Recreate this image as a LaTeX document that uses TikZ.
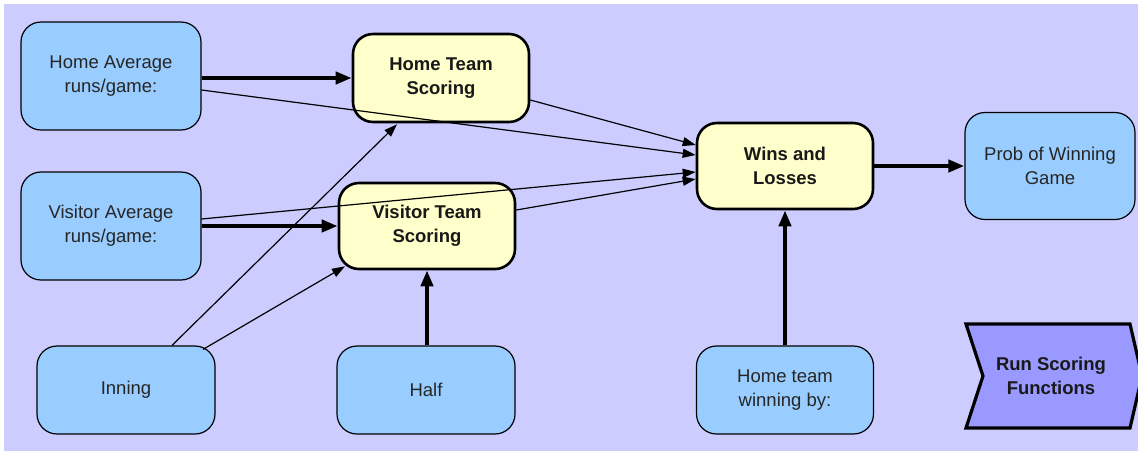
\documentclass[tikz,border=0pt]{standalone}
\usepackage{fontspec}
\setmainfont{Liberation Sans}
\usetikzlibrary{arrows.meta,calc}
\definecolor{panel}{HTML}{CCCCFF}
\definecolor{varblue}{HTML}{99CCFF}
\definecolor{fnyellow}{HTML}{FFFFCC}
\definecolor{chev}{HTML}{9999FF}
\tikzset{
  varbox/.style={draw=black, line width=1.2pt, fill=varblue, rounded corners=20pt,
    align=center, font=\fontsize{18.5}{24}\selectfont, text=black!85, inner sep=0pt},
  fnbox/.style={draw=black, line width=2.6pt, fill=fnyellow, rounded corners=20pt,
    align=center, font=\fontsize{18.5}{24}\selectfont\bfseries, text=black!90, inner sep=0pt},
  thin/.style={line width=1.2pt, -{Triangle[length=13pt,width=9pt]}},
  thick/.style={line width=4pt, -{Triangle[length=16pt,width=12pt]}},
}
\begin{document}
\begin{tikzpicture}[x=1pt,y=-1pt]
\useasboundingbox (0,0) rectangle (1138,451);
\fill[white] (0,0) rectangle (1138,451);
\fill[panel] (4,4) rectangle (1138,451);

\node[varbox, minimum width=180pt, minimum height=108pt] (ha) at (111,76) {Home Average\\runs/game:};
\node[fnbox, minimum width=176pt, minimum height=88pt] (hts) at (441,78) {Home Team\\Scoring};
\node[varbox, minimum width=180pt, minimum height=108pt] (va) at (111,226) {Visitor Average\\runs/game:};
\node[fnbox, minimum width=176pt, minimum height=86pt] (vts) at (427,226) {Visitor Team\\Scoring};
\node[fnbox, minimum width=176pt, minimum height=86pt] (wl) at (785,166) {Wins and\\Losses};
\node[varbox, minimum width=170pt, minimum height=107pt] (prob) at (1050,166) {Prob of Winning\\Game};
\node[varbox, minimum width=178pt, minimum height=88pt] (inn) at (126,390) {Inning};
\node[varbox, minimum width=178pt, minimum height=88pt] (half) at (426,390) {Half};
\node[varbox, minimum width=177pt, minimum height=88pt] (hwb) at (785,390) {Home team\\winning by:};

\begin{scope}
\clip (0,0) rectangle (1138,451);
\draw[line width=3.2pt, fill=chev, line join=miter]
  (966,324) -- (1130,324) -- (1142,376) -- (1130,428) -- (966,428) -- (983,376) -- cycle;
\end{scope}
\node[font=\fontsize{18.5}{24}\selectfont\bfseries, text=black!90, align=center] (rsf) at (1051,376) {Run Scoring\\Functions};

% connectors
\draw[thick] (ha.east |- hts.west) -- (hts.west);
\draw[thin] ([yshift=-14pt]ha.east) -- ([yshift=11pt]wl.west);
\draw[thin] ([yshift=-22pt]hts.east) -- ([yshift=21pt]wl.west);
\draw[thin] ([yshift=7pt]va.east) -- ([yshift=-6pt]wl.west);
\draw[thin] ([yshift=16pt]vts.east) -- ([yshift=-13pt]wl.west);
\draw[thick] (va.east) -- (vts.west);
\draw[thin] ([xshift=46pt]inn.north) -- ([xshift=-44pt,yshift=-1pt]hts.south);
\draw[thin] ([xshift=77pt,yshift=-4pt]inn.north) -- ([xshift=-82pt,yshift=4pt]vts.south);
\draw[thick] (half.north -| vts.south) -- (vts.south);
\draw[thick] (hwb.north) -- (wl.south);
\draw[thick] (wl.east) -- (prob.west);
\end{tikzpicture}
\end{document}
